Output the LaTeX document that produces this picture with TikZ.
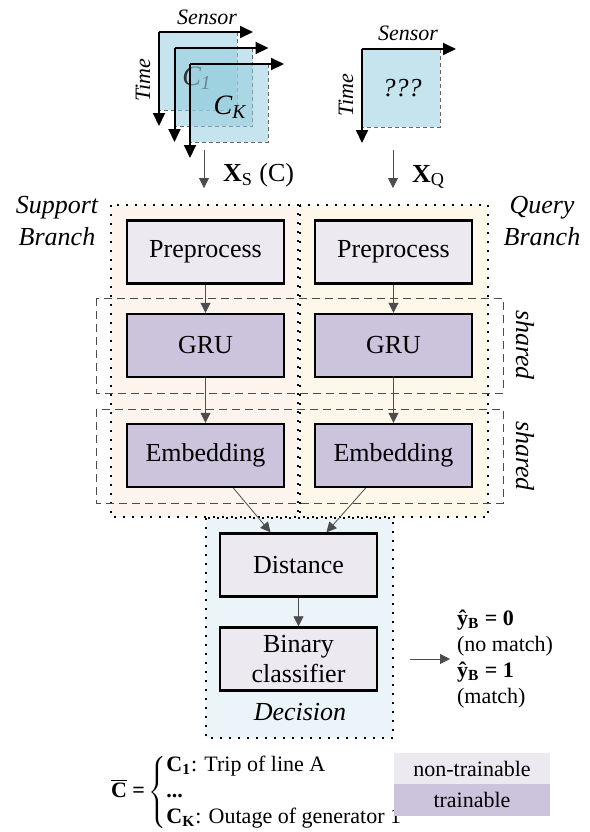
\documentclass[tikz,border=0pt]{standalone}
\usepackage{fontspec}
\setmainfont{Liberation Serif}
\usetikzlibrary{arrows.meta}

\definecolor{nontrain}{RGB}{236,233,241}
\definecolor{trainc}{RGB}{204,195,220}
\definecolor{suppfill}{RGB}{253,244,238}
\definecolor{queryfill}{RGB}{254,248,234}
\definecolor{decfill}{RGB}{235,244,248}
\definecolor{matc}{RGB}{150,205,222}

\tikzset{
  box/.style={draw, line width=1.2pt, minimum width=78.5pt, minimum height=31.5pt,
    inner sep=0pt, align=center, font=\fontsize{13}{15}\selectfont},
  fixed/.style={box, fill=nontrain},
  learn/.style={box, fill=trainc},
  flow/.style={->, line width=0.4pt, draw=black!70},
  matarrow/.style={-{Triangle[length=6.5pt,width=6pt]}, line width=1pt},
  branch/.style={dash pattern=on 0.9pt off 3.6pt, line width=0.9pt},
  sharebox/.style={dash pattern=on 4pt off 2.5pt, line width=0.5pt, draw=black!70},
  lab/.style={font=\fontsize{13}{16}\selectfont\itshape, align=center},
  axislab/.style={font=\fontsize{11}{13}\selectfont\itshape},
  txt/.style={font=\fontsize{11}{13}\selectfont},
}

% one sensor-time window: square, dashed far edges, two axes
\newcommand{\matlayer}[2]{%
  \fill[matc, fill opacity=0.55] (#1,#2) rectangle ++(78,78);
  \draw[dashed, dash pattern=on 2pt off 1.5pt, line width=0.4pt, black!60]
    (#1+78,#2) -- ++(0,78) -- ++(-78,0);
  \draw[matarrow] (#1,#2) -- ++(94,0);
  \draw[matarrow] (#1,#2) -- ++(0,94);
}

\begin{document}
\begin{tikzpicture}[x=0.5pt, y=-0.5pt, >={Triangle[length=5pt,width=5pt]}]
    \useasboundingbox (0,0) rectangle (590,832);

    % --- input windows ---
    \foreach \k in {0,1} {\matlayer{159+15.5*\k}{32+16*\k}}
    \node[font=\fontsize{14}{16}\selectfont\itshape, text=black!80] (cone) at (197,78) {C\textsubscript{1}};
    \matlayer{190}{64}
    \node[font=\fontsize{14}{16}\selectfont\itshape] (ck) at (230,107) {C\textsubscript{K}};
    \node[axislab] (sensS) at (207,17) {Sensor};
    \node[axislab, rotate=90] (timeS) at (143,80) {Time};

    \matlayer{362}{49}
    \node[lab] (unk) at (402,88) {???};
    \node[axislab] (sensQ) at (408,33) {Sensor};
    \node[axislab, rotate=90] (timeQ) at (346,95) {Time};

    % inputs
    \coordinate (xsTop) at (204,150);
    \coordinate (xsBot) at (204,188);
    \coordinate (xqTop) at (393,150);
    \coordinate (xqBot) at (393,188);
    \draw[flow] (xsTop) -- (xsBot);
    \draw[flow] (xqTop) -- (xqBot);
    \node[txt, font=\fontsize{13}{15}\selectfont, anchor=west] (xsLab) at (216,175) {\textbf{X}\textsubscript{S} (C)};
    \node[txt, font=\fontsize{13}{15}\selectfont, anchor=west] (xqLab) at (405,177) {\textbf{X}\textsubscript{Q}};

    % --- branches ---
    \draw[branch, fill=suppfill] (111,205) rectangle (298,517);
    \draw[branch, fill=queryfill] (300,205) rectangle (488,517);
    \draw[branch, fill=decfill] (206,518) rectangle (393,738);
    \node[lab] (suppLab) at (57,221) {Support\\Branch};
    \node[lab] (queryLab) at (542,221) {Query\\Branch};

    % shared weights
    \draw[sharebox] (96,298) rectangle (503,393);
    \draw[sharebox] (96,409) rectangle (503,503);
    \node[lab, rotate=-90] (shOne) at (525,345) {shared};
    \node[lab, rotate=-90] (shTwo) at (525,456) {shared};

    % --- blocks ---
    \node[fixed] (preS) at (205.5,252) {Preprocess};
    \node[fixed] (preQ) at (393.5,252) {Preprocess};
    \node[learn] (gruS) at (205.5,345.5) {GRU};
    \node[learn] (gruQ) at (393.5,345.5) {GRU};
    \node[learn] (embS) at (205.5,455.5) {Embedding};
    \node[learn] (embQ) at (393.5,455.5) {Embedding};
    \node[fixed] (dist) at (298.5,565) {Distance};
    \node[fixed] (bin) at (298.5,659) {Binary\\classifier};
    \node[lab] (decLab) at (300,712) {Decision};

    \draw[flow] (preS) -- (gruS);
    \draw[flow] (preQ) -- (gruQ);
    \draw[flow] (gruS) -- (embS);
    \draw[flow] (gruQ) -- (embQ);
    \draw[flow] ([xshift=14pt]embS.south) -- ([xshift=-14pt]dist.north);
    \draw[flow] ([xshift=-14pt]embQ.south) -- ([xshift=14pt]dist.north);
    \draw[flow] (dist) -- (bin);

    % output
    \node[txt, align=left, anchor=west] (outLab) at (450,659)
        {\textbf{ŷ\textsubscript{B} = 0}\\(no match)\\\textbf{ŷ\textsubscript{B} = 1}\\(match)};
    \draw[flow] ([xshift=16pt]bin.east) -- (outLab.west);

    % --- legend ---
    \node[txt, anchor=west] (cbar) at (104,792)
        {\textbf{$\overline{\mbox{\textbf{C}}}$ =}\,$\left\{\begin{tabular}{@{}l@{}}
            \textbf{C\textsubscript{1}}: Trip of line A\\
            \textbf{...}\\
            \textbf{C\textsubscript{K}}: Outage of generator 1
        \end{tabular}\right.$};
    \node[txt, fill=nontrain, minimum width=78pt, minimum height=15.5pt, inner sep=0pt] (legFix) at (472,768.5) {non-trainable};
    \node[txt, fill=trainc, minimum width=78pt, minimum height=16pt, inner sep=0pt] (legLearn) at (472,800) {trainable};
\end{tikzpicture}
\end{document}
